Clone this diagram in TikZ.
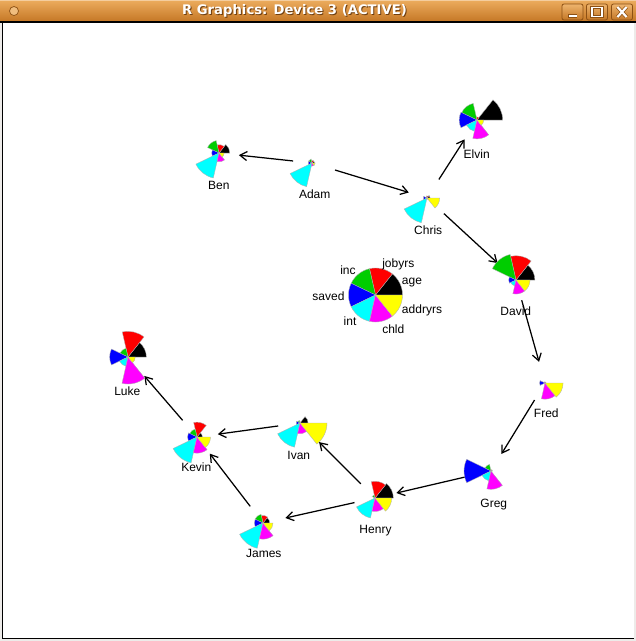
\documentclass[tikz,border=0pt]{standalone}
\usepackage{fontspec}
\setmainfont{Liberation Sans}
\newfontfamily\ttlfont{DejaVu Sans}
\usetikzlibrary{arrows.meta}
\definecolor{rgreen}{RGB}{0,205,0}
\definecolor{rcyan}{RGB}{0,255,255}
\definecolor{rmagenta}{RGB}{255,0,255}
\definecolor{ryellow}{RGB}{255,255,0}
\definecolor{rblue}{RGB}{0,0,255}
\definecolor{rred}{RGB}{255,0,0}
\definecolor{tbtop}{RGB}{236,172,94}
\definecolor{tbbot}{RGB}{196,118,36}
\definecolor{tbdark}{RGB}{110,62,16}
\definecolor{btnedge}{RGB}{140,80,20}
\definecolor{framegray}{RGB}{237,235,233}
\tikzset{
  lab/.style={font=\fontsize{12}{14}\selectfont, anchor=base, inner sep=0pt},
  link/.style={line width=1.25pt, -{Straight Barb[length=7pt,width=9pt]}},
  seg/.style={draw=black!30, line width=0.35pt},
  btnbox/.style={draw=btnedge, line width=0.8pt, rounded corners=2pt, top color=tbtop!90!white, bottom color=tbbot},
  btnmark/.style={draw=white, line width=2pt},
  titletext/.style={font=\ttlfont\bfseries\fontsize{13.2}{15}\selectfont, inner sep=0pt}
}
\newcommand{\starglyph}[8]{%
  \foreach \cl/\rr [count=\i from 0] in {black/#2,rred/#3,rgreen/#4,rblue/#5,rcyan/#6,rmagenta/#7,ryellow/#8}{%
    \filldraw[seg, fill=\cl] (#1) -- ++({\i*360/7}:{\rr*27}) arc[start angle={\i*360/7}, delta angle={360/7}, radius={\rr*27}] -- cycle;
  }%
}
\begin{document}
\begin{tikzpicture}[x=1pt,y=1pt]
\useasboundingbox (0,0) rectangle (636,-641);
\fill[framegray] (0,0) rectangle (636,-641);
% title bar
\shade[top color=tbtop, bottom color=tbbot] (0,0) rectangle (636,-22);
\draw[tbtop!60!white, line width=0.8pt] (0,-0.4) -- (636,-0.4);
\node[titletext, text=tbdark] (ttlshadow) at (295.5,-11.5) {R Graphics: Device 3 (ACTIVE)};
\node[titletext, text=white] (ttl) at (294.5,-10.5) {R Graphics: Device 3 (ACTIVE)};
\filldraw[fill=tbtop!80!white, draw=btnedge, line width=0.7pt] (14,-11) circle[radius=4.5];
\node[btnbox, minimum width=21pt, minimum height=16pt, inner sep=0pt] (bmin) at (572.5,-12) {};
\node[btnbox, minimum width=21pt, minimum height=16pt, inner sep=0pt] (bmax) at (597,-12) {};
\node[btnbox, minimum width=21pt, minimum height=16pt, inner sep=0pt] (bclose) at (622,-12) {};
\draw[btnedge, line width=3.2pt] (568,-16) -- (577,-16);
\draw[btnmark] (568.5,-16) -- (576.5,-16);
\draw[btnedge, line width=3.2pt] (592,-7.5) rectangle (602,-16.5);
\draw[white, line width=1.8pt] (592,-7.5) rectangle (602,-16.5);
\draw[btnedge, line width=3.6pt] (617.5,-7) -- (626.5,-17) (617.5,-17) -- (626.5,-7);
\draw[white, line width=2.2pt] (617.5,-7) -- (626.5,-17) (617.5,-17) -- (626.5,-7);
% window body
\fill[white] (3,-22) rectangle (634,-638.5);
\draw[black, line width=1.5pt] (0,-22.2) -- (636,-22.2);
\draw[black, line width=1.6pt] (2.6,-22) -- (2.6,-638.6) -- (634,-638.6);
% glyph centres
\coordinate (Adam) at (312,-163);
\coordinate (Ben) at (219,-153);
\coordinate (Chris) at (427,-198);
\coordinate (Elvin) at (477,-120);
\coordinate (David) at (516,-280);
\coordinate (Fred) at (545,-383);
\coordinate (Greg) at (491,-471);
\coordinate (Henry) at (375,-498);
\coordinate (Ivan) at (300,-423);
\coordinate (James) at (263,-523);
\coordinate (Kevin) at (197,-437);
\coordinate (Luke) at (128,-357);
\coordinate (key) at (375.5,-295);
% connectors
\draw[link, shorten <=19pt, shorten >=20pt] (Adam) -- (Ben);
\draw[link, shorten <=24pt, shorten >=19pt] (Adam) -- (Chris);
\draw[link, shorten <=22pt, shorten >=23pt] (Chris) -- (Elvin);
\draw[link, shorten <=23pt, shorten >=25pt] (Chris) -- (David);
\draw[link, shorten <=21pt, shorten >=22pt] (David) -- (Fred);
\draw[link, shorten <=20pt, shorten >=20pt] (Fred) -- (Greg);
\draw[link, shorten <=24pt, shorten >=22pt] (Greg) -- (Henry);
\draw[link, shorten <=21pt, shorten >=23pt] (Henry) -- (James);
\draw[link, shorten <=20pt, shorten >=27pt] (Henry) -- (Ivan);
\draw[link, shorten <=21pt, shorten >=21pt] (James) -- (Kevin);
\draw[link, shorten <=22pt, shorten >=21pt] (Ivan) -- (Kevin);
\draw[link, shorten <=22pt, shorten >=25pt] (Kevin) -- (Luke);
% glyphs: age, jobyrs, inc, saved, int, chld, addryrs
\starglyph{Ben}{0.40}{0.31}{0.47}{0.27}{0.95}{0.33}{0.19}
\starglyph{Adam}{0.10}{0.10}{0.15}{0.15}{0.90}{0.12}{0.12}
\starglyph{Chris}{0.12}{0.08}{0.05}{0.14}{0.94}{0.05}{0.47}
\starglyph{Elvin}{0.95}{0.12}{0.63}{0.66}{0.43}{0.70}{0.25}
\starglyph{David}{0.70}{0.90}{0.97}{0.27}{0.22}{0.52}{0.52}
\starglyph{Fred}{0.04}{0.04}{0.04}{0.20}{0.04}{0.60}{0.67}
\starglyph{Greg}{0.05}{0.05}{0.25}{1.00}{0.37}{0.68}{0.04}
\starglyph{Henry}{0.68}{0.62}{0.12}{0.04}{0.76}{0.50}{0.62}
\starglyph{Ivan}{0.30}{0.05}{0.10}{0.15}{0.92}{0.40}{1.00}
\starglyph{James}{0.25}{0.28}{0.33}{0.32}{0.96}{0.60}{0.37}
\starglyph{Kevin}{0.20}{0.55}{0.30}{0.35}{0.98}{0.60}{0.50}
\starglyph{Luke}{0.68}{0.95}{0.33}{0.68}{0.35}{1.00}{0.27}
\starglyph{key}{1}{1}{1}{1}{1}{1}{1}
% labels
\node[lab] (Ben-l) at (218.8,-189.5) {Ben};
\node[lab] (Adam-l) at (314.7,-198.5) {Adam};
\node[lab] (Chris-l) at (428.2,-234.8) {Chris};
\node[lab] (Elvin-l) at (476.7,-158) {Elvin};
\node[lab] (David-l) at (515.8,-315.5) {David};
\node[lab] (Fred-l) at (546.3,-417.5) {Fred};
\node[lab] (Luke-l) at (127.3,-395.5) {Luke};
\node[lab] (Kevin-l) at (196.3,-471.5) {Kevin};
\node[lab] (Ivan-l) at (298.8,-459.5) {Ivan};
\node[lab] (Henry-l) at (375.5,-533.6) {Henry};
\node[lab] (James-l) at (263.8,-557) {James};
\node[lab] (Greg-l) at (493.8,-507) {Greg};
% key labels
\node[lab] (k-jobyrs) at (398.3,-267) {jobyrs};
\node[lab] (k-age) at (412,-284.3) {age};
\node[lab] (k-inc) at (348,-274.5) {inc};
\node[lab] (k-saved) at (328.5,-300) {saved};
\node[lab] (k-int) at (350,-325) {int};
\node[lab] (k-chld) at (393.3,-333.5) {chld};
\node[lab] (k-addryrs) at (422,-313.5) {addryrs};
\end{tikzpicture}
\end{document}
